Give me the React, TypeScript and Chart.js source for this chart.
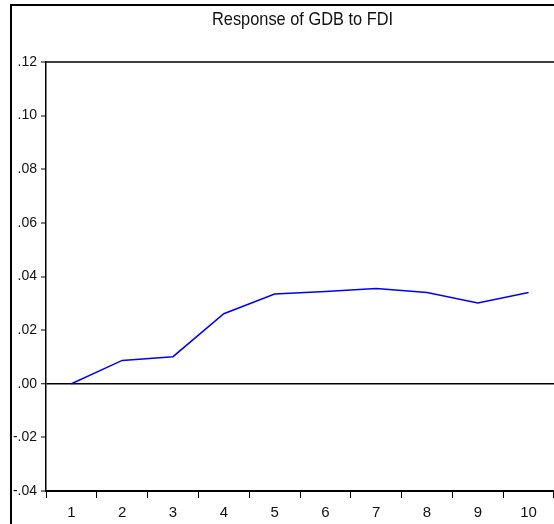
import React, { useEffect, useRef } from "react";
import { Chart, registerables } from "chart.js";

Chart.register(...registerables);

const periods = ["1", "2", "3", "4", "5", "6", "7", "8", "9", "10"];
const response = [0.0, 0.0087, 0.0101, 0.0261, 0.0335, 0.0344, 0.0355, 0.034, 0.0301, 0.034];
const titleText = "Response of GDB to FDI";
const yMin = -0.04;
const yMax = 0.12;
const yStep = 0.02;

const FONT = "'Liberation Sans', Arial, sans-serif";

function fmt(v: number): string {
  const s = Math.abs(v).toFixed(2).replace(/^0/, "");
  return (v < -1e-9 ? "-" : "") + s;
}

const framePlugin = {
  id: "framePlugin",
  afterDraw(chart: any) {
    const { ctx, chartArea } = chart;
    ctx.save();
    ctx.strokeStyle = "#000";
    ctx.lineWidth = 1.5;
    ctx.beginPath();
    ctx.moveTo(chartArea.left, chartArea.top);
    ctx.lineTo(chartArea.right, chartArea.top);
    ctx.stroke();
    ctx.fillStyle = "#111";
    ctx.font = `19px ${FONT}`;
    const w = ctx.measureText(titleText).width;
    const sx = 181 / w;
    ctx.translate(302.5, 25);
    ctx.scale(sx, 1);
    ctx.textAlign = "center";
    ctx.textBaseline = "alphabetic";
    ctx.fillText(titleText, 0, 0);
    ctx.restore();
  },
};

export default function App() {
  const ref = useRef<HTMLCanvasElement | null>(null);
  useEffect(() => {
    if (!ref.current) return;
    const chart = new Chart(ref.current, {
      type: "line",
      data: {
        labels: periods,
        datasets: [
          {
            data: response,
            borderColor: "#0000FF",
            borderWidth: 1.5,
            pointRadius: 0,
            tension: 0,
            fill: false,
          },
        ],
      },
      options: {
        animation: false,
        responsive: false,
        layout: { padding: { top: 62, left: 0, right: 0, bottom: 0 } },
        plugins: { legend: { display: false }, tooltip: { enabled: false }, title: { display: false } },
        scales: {
          x: {
            type: "category",
            offset: true,
            grid: {
              offset: true,
              drawOnChartArea: false,
              drawTicks: true,
              tickLength: 7,
              tickColor: "#000",
              tickWidth: 1,
            },
            border: { color: "#000", width: 2 },
            ticks: {
              color: "#111",
              font: { family: FONT, size: 15 },
              padding: 6,
              maxRotation: 0,
              autoSkip: false,
            },
            afterFit(scale: any) {
              scale.height = 33;
            },
          },
          y: {
            min: yMin,
            max: yMax,
            grid: {
              drawOnChartArea: true,
              color: (c: any) => (c.tick && Math.abs(c.tick.value) < 1e-9 ? "#000" : "rgba(0,0,0,0)"),
              lineWidth: (c: any) => (c.tick && Math.abs(c.tick.value) < 1e-9 ? 1.5 : 0),
              tickLength: 5,
              tickColor: "#000",
              tickWidth: 1,
            },
            border: { color: "#000", width: 1.5 },
            ticks: {
              stepSize: yStep,
              color: "#111",
              font: { family: FONT, size: 14 },
              padding: 4,
              callback: (v: any) => fmt(Number(v)),
            },
            afterFit(scale: any) {
              scale.width = 46;
            },
          },
        },
      },
      plugins: [framePlugin],
    });
    return () => chart.destroy();
  }, []);

  return (
    <div style={{ position: "absolute", left: 0, top: 0, width: 554, height: 524, overflow: "hidden", background: "#fff" }}>
      <div
        style={{
          position: "absolute",
          left: 10,
          top: 4,
          width: 600,
          height: 600,
          border: "2px solid #000",
          boxSizing: "border-box",
        }}
      />
      <canvas ref={ref} width={554} height={524} style={{ position: "absolute", left: 0, top: 0, display: "block" }} />
    </div>
  );
}
